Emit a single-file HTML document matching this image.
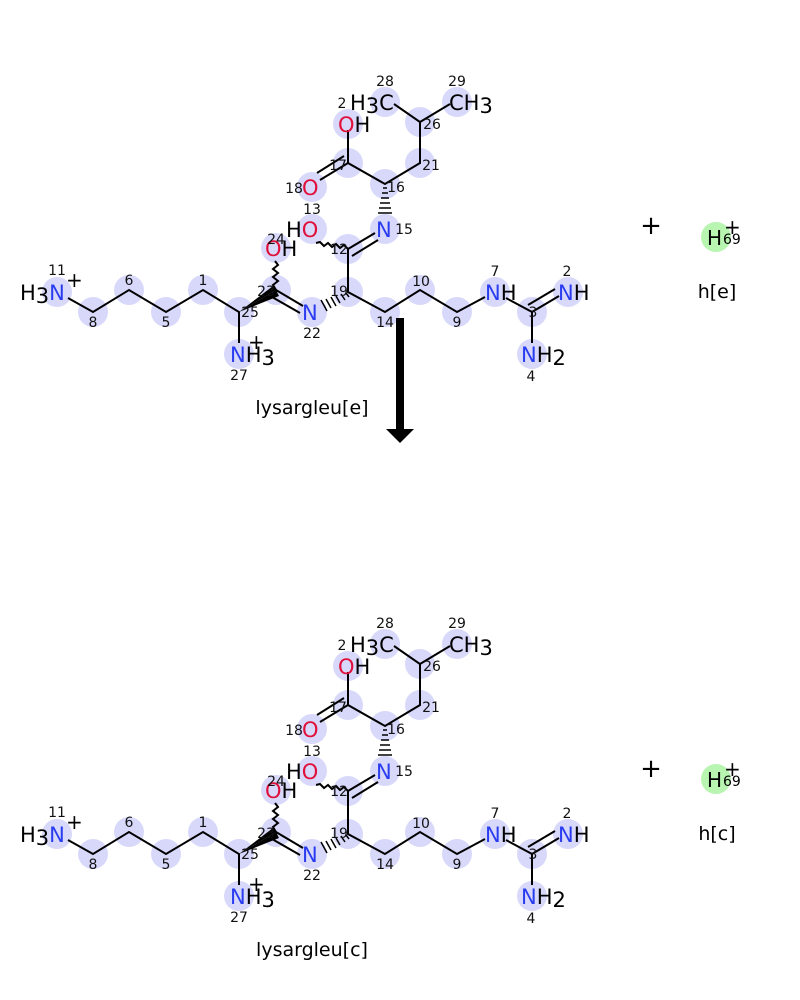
<!DOCTYPE html>
<html><head><meta charset="utf-8"><style>
html,body{margin:0;padding:0;background:#fff;width:800px;height:1000px;overflow:hidden}
svg text{font-family:"DejaVu Sans","Liberation Sans",sans-serif}
.a{fill:#d8d8fb}
.b{stroke:#000;stroke-width:2;fill:none}
.n{font-size:14px;fill:#111}
.L{font-size:21px}
.blue{fill:#2a3cf0}.red{fill:#e0103a}
</style></head><body>
<svg width="800" height="1000" xmlns="http://www.w3.org/2000/svg">
<defs>
<g id="mol">
 <g class="a">
  <circle cx="57" cy="292" r="15"/><circle cx="93" cy="312" r="15"/><circle cx="129" cy="290" r="15"/>
  <circle cx="166" cy="312" r="15"/><circle cx="203" cy="290" r="15"/><circle cx="239" cy="312" r="15"/>
  <circle cx="239" cy="354" r="15"/><circle cx="276" cy="290" r="15"/><circle cx="276" cy="248" r="15"/>
  <circle cx="312" cy="312" r="15"/><circle cx="348" cy="292" r="15"/><circle cx="348" cy="249" r="15"/>
  <circle cx="312" cy="229" r="15"/><circle cx="385" cy="229" r="15"/><circle cx="385" cy="184" r="15"/>
  <circle cx="348" cy="163" r="15"/><circle cx="312" cy="187" r="15"/><circle cx="348" cy="124" r="15"/>
  <circle cx="420" cy="163" r="15"/><circle cx="420" cy="122" r="15"/><circle cx="385" cy="102" r="15"/>
  <circle cx="457" cy="102" r="15"/><circle cx="385" cy="312" r="15"/><circle cx="420" cy="290" r="15"/>
  <circle cx="457" cy="312" r="15"/><circle cx="495" cy="292" r="15"/><circle cx="532" cy="312" r="15"/>
  <circle cx="568" cy="292" r="15"/><circle cx="532" cy="354" r="15"/>
 </g>
 <g class="b">
  <polyline points="68,298 93,312 129,290 166,312 203,290 239,312 239,343"/>
  <line x1="276" y1="290" x2="303" y2="306"/>
  <line x1="272" y1="297" x2="300" y2="313"/>
  <path d="M276,290 l-3,-5 l5,-4 l-5,-4 l5,-4 l-5,-4 l5,-4 l-3,-4"/>
  <polyline points="348,249 348,292 385,312 420,290 457,312 485,297"/>
  <line x1="348" y1="249" x2="375" y2="233"/>
  <line x1="352" y1="256" x2="378" y2="240"/>
  <path d="M348,249 l-4,-4 l-4,3 l-4,-4 l-4,3 l-4,-4 l-4,3 l-4,-4 l-4,1"/>
  <polyline points="348,130 348,163 385,184 420,163 420,122 394,104"/>
  <line x1="420" y1="122" x2="450" y2="104"/>
  <line x1="348" y1="163" x2="320" y2="180"/>
  <line x1="344" y1="156" x2="317" y2="173"/>
  <polyline points="506,298 532,312 532,343"/>
  <line x1="532" y1="312" x2="559" y2="296"/>
  <line x1="528" y1="305" x2="555" y2="289"/>
 </g>
 <polygon points="239,312 276,290 279,296" fill="#000"/>
 <polygon points="239,312 273,286 276,290" fill="#000"/>
 <g stroke="#000" stroke-width="1.5">
  <line x1="346" y1="293" x2="349" y2="297"/><line x1="341" y1="294" x2="345" y2="300"/>
  <line x1="336" y1="296" x2="340" y2="303"/><line x1="331" y1="297" x2="336" y2="306"/>
  <line x1="326" y1="299" x2="331" y2="308"/><line x1="321" y1="300" x2="327" y2="311"/>
  <line x1="383" y1="188" x2="387" y2="188"/><line x1="382" y1="193" x2="388" y2="193"/>
  <line x1="381" y1="198" x2="389" y2="198"/><line x1="380" y1="203" x2="390" y2="203"/>
  <line x1="379" y1="208" x2="391" y2="208"/><line x1="378" y1="213" x2="392" y2="213"/>
 </g>
 <g class="L">
  <text x="20" y="300">H<tspan dy="3">3</tspan><tspan class="blue" dy="-3">N</tspan></text>
  <text x="66" y="287" font-size="20">+</text>
  <text x="230" y="362"><tspan class="blue">N</tspan>H<tspan dy="3">3</tspan></text>
  <text x="248" y="349" font-size="20">+</text>
  <text x="265" y="256"><tspan class="red">O</tspan>H</text>
  <text x="302" y="320" class="blue">N</text>
  <text x="286" y="237">H<tspan class="red">O</tspan></text>
  <text x="376" y="237" class="blue">N</text>
  <text x="302" y="195" class="red">O</text>
  <text x="338" y="132"><tspan class="red">O</tspan>H</text>
  <text x="350" y="110">H<tspan dy="3">3</tspan><tspan dy="-3">C</tspan></text>
  <text x="449" y="110">CH<tspan dy="3">3</tspan></text>
  <text x="485" y="300"><tspan class="blue">N</tspan>H</text>
  <text x="558" y="300"><tspan class="blue">N</tspan>H</text>
  <text x="521" y="362"><tspan class="blue">N</tspan>H<tspan dy="3">2</tspan></text>
 </g>
 <g class="n" text-anchor="middle">
  <text x="57" y="275">11</text><text x="93" y="327">8</text><text x="129" y="285">6</text>
  <text x="166" y="327">5</text><text x="203" y="285">1</text><text x="250" y="317">25</text>
  <text x="239" y="380">27</text><text x="266" y="296">23</text><text x="276" y="244">24</text>
  <text x="312" y="338">22</text><text x="339" y="296">19</text><text x="339" y="254">12</text>
  <text x="312" y="214">13</text><text x="404" y="234">15</text><text x="396" y="192">16</text>
  <text x="338" y="170">17</text><text x="294" y="193">18</text><text x="342" y="108">2</text>
  <text x="431" y="170">21</text><text x="432" y="129">26</text><text x="385" y="86">28</text>
  <text x="457" y="86">29</text><text x="385" y="327">14</text><text x="421" y="286">10</text>
  <text x="457" y="327">9</text><text x="495" y="276">7</text><text x="533" y="317">3</text>
  <text x="567" y="276">2</text><text x="531" y="381">4</text>
 </g>
</g>
</defs>
<use href="#mol"/>
<use href="#mol" transform="translate(0,542)"/>
<rect x="396" y="318" width="8" height="112" fill="#000"/>
<polygon points="386,429 414,429 400,443" fill="#000"/>
<text x="312" y="414" font-size="19" text-anchor="middle">lysargleu[e]</text>
<text x="312" y="956" font-size="19" text-anchor="middle">lysargleu[c]</text>
<text x="651" y="234" font-size="26" text-anchor="middle">+</text>
<text x="651" y="777" font-size="26" text-anchor="middle">+</text>
<circle cx="716" cy="237" r="15" fill="#b8f5b0"/>
<circle cx="716" cy="779" r="15" fill="#b8f5b0"/>
<text x="707" y="245" font-size="20">H</text><text x="723" y="244" font-size="14">69</text><text x="724" y="234" font-size="20">+</text>
<text x="707" y="787" font-size="20">H</text><text x="723" y="786" font-size="14">69</text><text x="724" y="776" font-size="20">+</text>
<text x="717" y="298" font-size="19" text-anchor="middle">h[e]</text>
<text x="717" y="840" font-size="19" text-anchor="middle">h[c]</text>
</svg>
</body></html>
